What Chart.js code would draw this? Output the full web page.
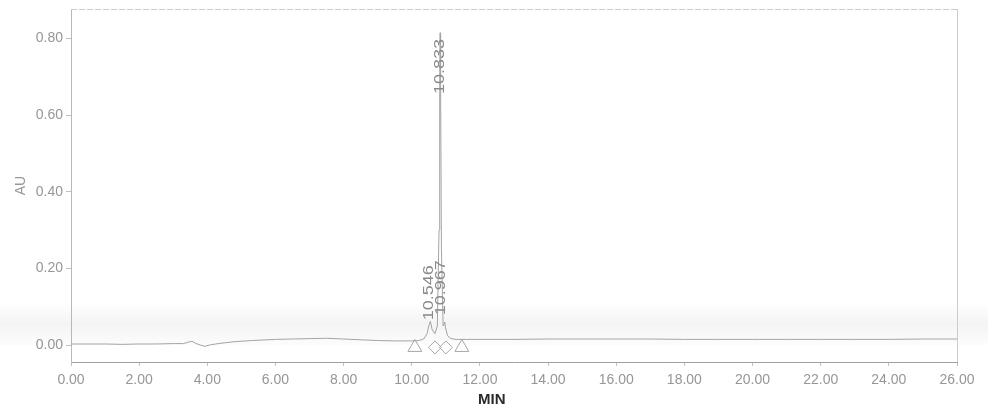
<!DOCTYPE html>
<html>
<head>
<meta charset="utf-8">
<script src="https://cdn.jsdelivr.net/npm/chart.js@4.4.1/dist/chart.umd.min.js"></script>
<style>
  html, body { margin: 0; padding: 0; background: #fff; }
  #wrap { width: 988px; height: 411px; }
</style>
</head>
<body>
<div id="wrap"><canvas id="chromChart"></canvas></div>
<script>
// retention time (min) and absorbance (AU)
const times = [0, 0.5, 1, 1.5, 2, 2.5, 3, 3.3, 3.45, 3.55, 3.65, 3.8, 3.93, 4.1, 4.4, 4.8, 5.3, 6, 6.5, 7, 7.5, 8, 8.5, 9, 9.5, 10,
  10.2, 10.35, 10.45, 10.5, 10.546, 10.6, 10.68, 10.75, 10.8, 10.82, 10.833, 10.845, 10.87, 10.92, 10.95, 10.967, 10.99, 11.05, 11.15,
  11.3, 11.6, 12, 13, 14, 15, 16, 17, 18, 19, 20, 21, 22, 23, 24, 25, 26];
const absorbance = [0.003, 0.003, 0.003, 0.002, 0.003, 0.003, 0.004, 0.004, 0.008, 0.010, 0.005, 0.000, -0.003, 0.001, 0.005, 0.009, 0.012, 0.015, 0.016, 0.017, 0.018, 0.016, 0.014, 0.012, 0.011, 0.011,
  0.012, 0.016, 0.030, 0.050, 0.062, 0.040, 0.030, 0.050, 0.300, 0.700, 0.815, 0.700, 0.250, 0.050, 0.055, 0.060, 0.045, 0.025, 0.017,
  0.015, 0.015, 0.015, 0.015, 0.016, 0.016, 0.016, 0.016, 0.015, 0.015, 0.015, 0.015, 0.015, 0.015, 0.015, 0.016, 0.016];

// peak annotations
const peakTimes = [10.546, 10.833, 10.967];
const peakLabels = ["10.546", "10.833", "10.967"];

// integration start/end markers
const markerTimes = [10.09, 10.68, 11.0, 11.47];
const markerValues = [-0.006, -0.006, -0.006, -0.006];
const markerStyles = ["triangle", "rectRot", "rectRot", "triangle"];

const xTicks = [0, 2, 4, 6, 8, 10, 12, 14, 16, 18, 20, 22, 24, 26];
const yTicks = [0, 0.2, 0.4, 0.6, 0.8];

const tickFont = { family: "'Liberation Sans', Arial, sans-serif", size: 14 };
const grey = "#969696";

// scan look: faint frame, grey band, peak labels, MIN title
const decorPlugin = {
    id: "decor",
    beforeDraw(chart) {
        const c = chart.ctx;
        c.save();
        c.fillStyle = "#fff";
        c.fillRect(0, 0, chart.width, chart.height);
        const g = c.createLinearGradient(0, 302, 0, 345);
        g.addColorStop(0, "rgba(0,0,0,0)");
        g.addColorStop(0.5, "rgba(0,0,0,0.045)");
        g.addColorStop(1, "rgba(0,0,0,0.01)");
        c.fillStyle = g;
        c.fillRect(0, 302, chart.width, 43);
        c.restore();
    },
    afterDatasetsDraw(chart) {
        const c = chart.ctx;
        const a = chart.chartArea;
        const xs = chart.scales.x, ys = chart.scales.y;
        c.save();
        // frame top & right
        c.strokeStyle = "#cccccc";
        c.lineWidth = 1;
        c.setLineDash([6, 2]);
        c.beginPath();
        c.moveTo(a.left, a.top + 0.5);
        c.lineTo(a.right, a.top + 0.5);
        c.stroke();
        c.setLineDash([]);
        c.beginPath();
        c.moveTo(a.right + 0.5, a.top);
        c.lineTo(a.right + 0.5, a.bottom);
        c.stroke();

        // rotated peak labels
        const anchor = [0.065, 0.655, 0.078]; // label foot, in AU
        const dx = [-1.5, 0, -3.5];
        c.fillStyle = "#8a8a8a";
        c.font = "17px 'Liberation Sans', Arial, sans-serif";
        c.textBaseline = "middle";
        c.textAlign = "left";
        peakTimes.forEach((t, i) => {
            const px = xs.getPixelForValue(t) + dx[i];
            const py = ys.getPixelForValue(anchor[i]);
            c.save();
            c.translate(px, py);
            c.rotate(-Math.PI / 2);
            c.scale(1.06, 0.9);
            c.fillText(peakLabels[i], 0, 0);
            c.restore();
        });

        // MIN axis title
        c.fillStyle = "#2a2a2a";
        c.font = "bold 15px 'Liberation Sans', Arial, sans-serif";
        c.textAlign = "center";
        c.fillText("MIN", xs.getPixelForValue(12.35), 400);
        c.restore();
    }
};

document.addEventListener("DOMContentLoaded", function () {
    const ctx = document.getElementById("chromChart").getContext("2d");

    new Chart(ctx, {
        type: "scatter",
        data: {
            datasets: [{
                label: "AU",
                data: times.map((t, i) => ({ x: t, y: absorbance[i] })),
                showLine: true,
                borderColor: "#a4a4a4",
                borderWidth: 1,
                pointRadius: 0,
                tension: 0
            }, {
                label: "markers",
                data: markerTimes.map((t, i) => ({ x: t, y: markerValues[i] })),
                showLine: false,
                pointStyle: markerStyles,
                pointRadius: [8, 6.5, 6.5, 8],
                borderColor: "#a8a8a8",
                backgroundColor: "rgba(255,255,255,0)",
                borderWidth: 1
            }]
        },
        options: {
            responsive: true,
            maintainAspectRatio: false,
            animation: false,
            layout: { padding: { top: 6, right: 31, left: 0, bottom: 0 } },
            plugins: { legend: { display: false }, tooltip: { enabled: false } },
            scales: {
                x: {
                    type: "linear",
                    min: 0,
                    max: 26,
                    afterBuildTicks: s => { s.ticks = xTicks.map(v => ({ value: v })); },
                    afterFit: s => { s.height = 49; s.paddingLeft = 0; s.paddingRight = 0; },
                    grid: { drawOnChartArea: false, tickLength: 4, tickColor: "#c0c0c0" },
                    border: { color: "#a0a0a0" },
                    ticks: {
                        color: grey,
                        font: tickFont,
                        padding: 6,
                        maxRotation: 0,
                        autoSkip: false,
                        callback: v => v.toFixed(2)
                    }
                },
                y: {
                    type: "linear",
                    min: -0.044,
                    max: 0.877,
                    afterBuildTicks: s => { s.ticks = yTicks.map(v => ({ value: v })); },
                    afterFit: s => { s.width = 71; s.paddingTop = 0; s.paddingBottom = 0; },
                    grid: { drawOnChartArea: false, tickLength: 5, tickColor: "#c0c0c0" },
                    border: { color: "#b8b8b8" },
                    title: { display: true, text: "AU", color: grey, font: { family: tickFont.family, size: 14 }, padding: { top: 13, bottom: 0 } },
                    ticks: {
                        color: grey,
                        font: tickFont,
                        padding: 3,
                        callback: v => v.toFixed(2)
                    }
                }
            }
        },
        plugins: [decorPlugin]
    });
});
</script>
</body>
</html>
